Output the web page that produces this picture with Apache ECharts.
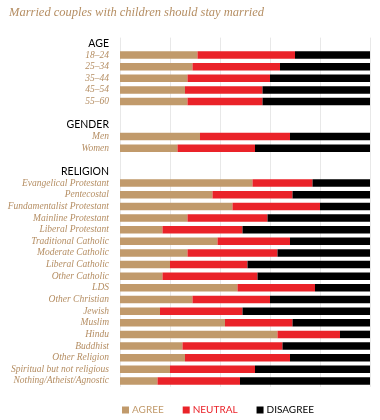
<!DOCTYPE html>
<html>
<head>
<meta charset="utf-8">
<script src="https://cdn.jsdelivr.net/npm/echarts@6/dist/echarts.min.js"></script>
<style>
html,body{margin:0;padding:0;background:#fff;}
#c{width:380px;height:420px;}
</style>
</head>
<body>
<div id="c"></div>
<script>
const titleText = 'Married couples with children should stay married';
const headers = ['AGE', 'GENDER', 'RELIGION'];
const categories = [
  'AGE', '18–24', '25–34', '35–44', '45–54', '55–60', ' ',
  'GENDER', 'Men', 'Women', '  ',
  'RELIGION', 'Evangelical Protestant', 'Pentecostal', 'Fundamentalist Protestant',
  'Mainline Protestant', 'Liberal Protestant', 'Traditional Catholic', 'Moderate Catholic',
  'Liberal Catholic', 'Other Catholic', 'LDS', 'Other Christian', 'Jewish', 'Muslim',
  'Hindu', 'Buddhist', 'Other Religion', 'Spiritual but not religious', 'Nothing/Atheist/Agnostic'
];
const agree = [
  null, 31, 29, 27, 26, 27, null,
  null, 32, 23, null,
  null, 53, 37, 45, 27, 17, 39, 27, 20, 17, 47, 29, 16, 42, 63, 25, 26, 20, 15
];
const neutral = [
  null, 39, 35, 33, 31, 30, null,
  null, 36, 31, null,
  null, 24, 32, 35, 32, 32, 29, 36, 31, 38, 31, 31, 33, 27, 25, 40, 42, 34, 33
];
const disagree = [
  null, 30, 36, 40, 43, 43, null,
  null, 32, 46, null,
  null, 23, 31, 20, 41, 51, 32, 37, 49, 45, 22, 40, 51, 31, 12, 35, 32, 46, 52
];
const seriesNames = ['AGREE', 'NEUTRAL', 'DISAGREE'];
const colors = ['#c19a6b', '#ea2329', '#000000'];
const xTicks = [0, 20, 40, 60, 80, 100];

const chart = echarts.init(document.getElementById('c'), null, {renderer: 'canvas'});
const values = [agree, neutral, disagree];
chart.setOption({
  animation: false,
  backgroundColor: '#ffffff',
  title: {
    text: titleText,
    left: 4, top: 1,
    textStyle: {fontFamily: 'Liberation Serif', fontStyle: 'italic', fontWeight: 'normal', fontSize: 12.5, color: '#b58e63'}
  },
  legend: {
    left: 117, top: 400,
    icon: 'rect', itemWidth: 7, itemHeight: 7, itemGap: 19,
    data: seriesNames.map((n, i) => ({name: n, textStyle: {color: colors[i]}})),
    textStyle: {fontFamily: 'Lato', fontSize: 10, padding: [0, 0, 0, -2]}
  },
  grid: {left: 120, right: 10, top: 37.6, bottom: 33.2, containLabel: false, outerBoundsMode: 'none'},
  xAxis: {
    type: 'value', min: xTicks[0], max: xTicks[xTicks.length - 1], interval: xTicks[1] - xTicks[0],
    axisLine: {show: false}, axisTick: {show: false}, axisLabel: {show: false},
    splitLine: {show: true, lineStyle: {color: '#e8e8e8', width: 1}}
  },
  yAxis: {
    type: 'category', inverse: true, data: categories,
    axisLine: {show: false}, axisTick: {show: false},
    axisLabel: {
      margin: 11, interval: 0,
      formatter: v => headers.includes(v) ? '{h|' + v + '}' : '{c|' + v + '}',
      rich: {
        h: {fontFamily: 'Lato', fontSize: 10.5, color: '#000000'},
        c: {fontFamily: 'Liberation Serif', fontStyle: 'italic', fontSize: 9.5, color: '#b58e63'}
      }
    }
  },
  series: seriesNames.map((n, i) => ({
    name: n, type: 'bar', stack: 'total', barWidth: 7.5,
    itemStyle: {color: colors[i]},
    data: values[i]
  }))
});
</script>
</body>
</html>
